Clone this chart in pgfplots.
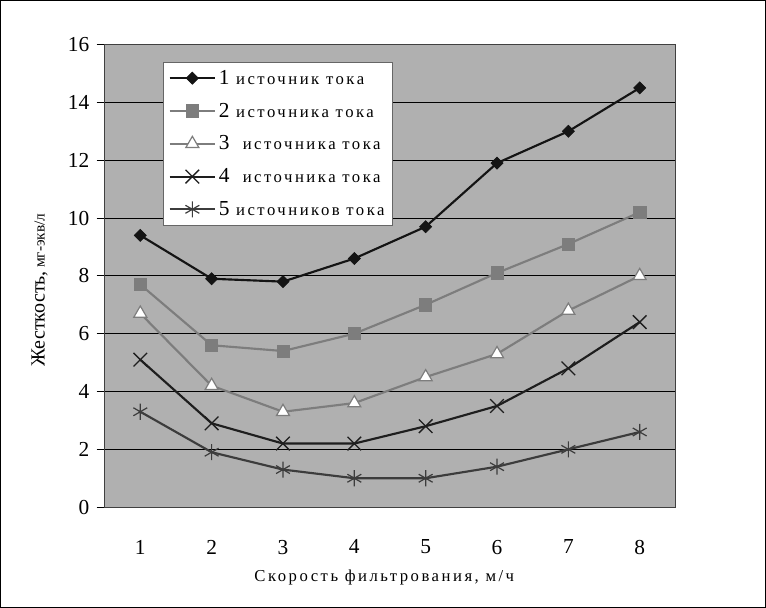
\documentclass[border=0pt]{standalone}
\usepackage{fontspec}
\setmainfont{Liberation Serif}
\newfontfamily\spaced[LetterSpace=15]{Liberation Serif}
\usepackage{pgfplots}
\pgfplotsset{compat=1.18}
\definecolor{bgc}{RGB}{176,176,176}
\definecolor{sone}{RGB}{20,20,20}
\definecolor{stwo}{RGB}{125,125,125}
\definecolor{sthree}{RGB}{125,125,125}
\definecolor{sfour}{RGB}{30,30,30}
\definecolor{sfive}{RGB}{60,60,60}
\begin{document}
\begin{tikzpicture}[x=1pt,y=1pt]
\draw[line width=0.75pt] (-78,-75) rectangle (495,379.5);
\begin{axis}[at={(0,0)}, anchor=south west, scale only axis,
  width=427.5pt, height=346.5pt,
  xmin=0.5, xmax=8.5, ymin=0, ymax=16,
  xtick={1,...,8}, ytick={0,2,...,16},
  axis background/.style={fill=bgc},
  ymajorgrids, grid style={black, line width=0.6pt},
  axis line style={draw=black!75, line width=0.9pt},
  tick align=outside, major tick length=6pt,
  ytick pos=left,
  xtick style={draw=none},
  ytick style={black, line width=0.6pt},
  /pgf/number format/assume math mode=true,
  ticklabel style={font=\fontsize{16}{18}\selectfont},
  xticklabel style={yshift=-15pt},
  yticklabel style={xshift=-2pt},
  xlabel={Скорость фильтрования, м/ч},
  xlabel style={font=\spaced\fontsize{12.5}{14}\selectfont, at={(axis description cs:0.49,-0.153)}, anchor=center},
  ylabel={{\fontsize{15}{17}\selectfont Жесткость,} {\fontsize{11.5}{13}\selectfont мг-экв/л}},
  ylabel style={at={(axis description cs:-0.114,0.47)}, anchor=center},
  legend style={at={(axis description cs:0.102,0.963)}, anchor=north west,
    fill=white, draw=black!60, line width=0.6pt,
    font=\spaced\fontsize{12.5}{14}\selectfont, row sep=8.5pt, inner sep=4pt},
  legend cell align=left,
  legend image code/.code={\draw[mark repeat=2,mark phase=2] plot coordinates {(0pt,0pt) (17pt,0pt) (34pt,0pt)};},
  every axis plot/.append style={line width=1.6pt},
]
\addplot[color=sone, mark=square*, mark size=3.2pt, mark options={solid, rotate=45, line width=0.5pt}]
  coordinates {(1,9.4) (2,7.9) (3,7.8) (4,8.6) (5,9.7) (6,11.9) (7,13.0) (8,14.5)};
\addlegendentry{{\fontsize{16}{17}\selectfont 1} источник тока}
\addplot[color=stwo, mark=square*, mark size=4.6pt, mark options={solid, line width=0.5pt}]
  coordinates {(1,7.7) (2,5.6) (3,5.4) (4,6.0) (5,7.0) (6,8.1) (7,9.1) (8,10.2)};
\addlegendentry{{\fontsize{16}{17}\selectfont 2} источника тока}
\addplot[color=sthree, mark=triangle*, mark size=5.6pt, mark options={solid, fill=white, line width=0.9pt}]
  coordinates {(1,6.7) (2,4.2) (3,3.3) (4,3.6) (5,4.5) (6,5.3) (7,6.8) (8,8.0)};
\addlegendentry{{\fontsize{16}{17}\selectfont 3} \ источника тока}
\addplot[color=sfour, mark=x, mark size=7.2pt, mark options={solid, line width=1pt}]
  coordinates {(1,5.1) (2,2.9) (3,2.2) (4,2.2) (5,2.8) (6,3.5) (7,4.8) (8,6.4)};
\addlegendentry{{\fontsize{16}{17}\selectfont 4} \ источника тока}
\addplot[color=sfive, mark=asterisk, mark size=6pt, mark options={solid, line width=0.9pt}]
  coordinates {(1,3.3) (2,1.9) (3,1.3) (4,1.0) (5,1.0) (6,1.4) (7,2.0) (8,2.6)};
\addlegendentry{{\fontsize{16}{17}\selectfont 5} источников тока}
\end{axis}
\end{tikzpicture}
\end{document}
